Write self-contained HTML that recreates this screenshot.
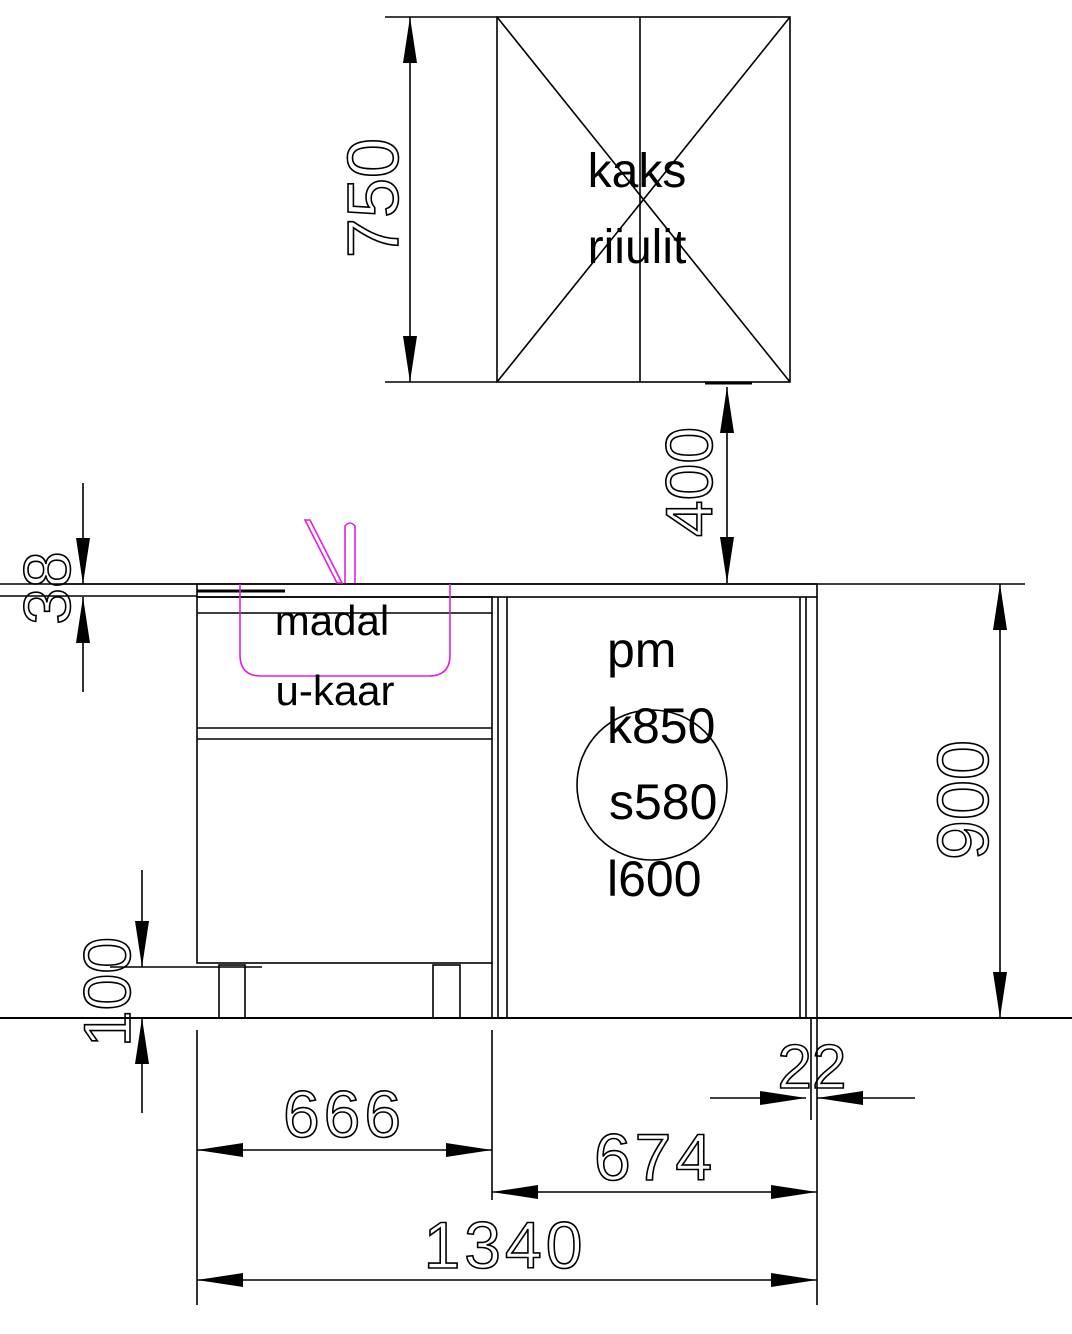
<!DOCTYPE html>
<html><head><style>
html,body{margin:0;padding:0;background:#fff;}
svg{display:block;}
.t{font-family:"Liberation Sans",sans-serif;fill:#000;}
.d{font-family:"Liberation Sans",sans-serif;fill:none;stroke:#000;stroke-width:1.6;}
</style></head><body>
<svg width="1072" height="1334" viewBox="0 0 1072 1334" xmlns="http://www.w3.org/2000/svg">
<defs>
<marker id="a" viewBox="0 0 10 10" refX="10" refY="5" markerWidth="46" markerHeight="14" markerUnits="userSpaceOnUse" orient="auto-start-reverse" preserveAspectRatio="none"><path d="M0,0 L10,5 L0,10 z" fill="#000"/></marker>
</defs>
<g stroke="#000" stroke-width="1.6" fill="none">
<rect x="497" y="17" width="293" height="365"/>
<line x1="640" y1="17" x2="640" y2="382"/>
<line x1="497" y1="17" x2="790" y2="382"/>
<line x1="790" y1="17" x2="497" y2="382"/>
<line x1="385" y1="17" x2="497" y2="17"/>
<line x1="385" y1="382" x2="497" y2="382"/>
<line x1="410" y1="17" x2="410" y2="382" marker-start="url(#a)" marker-end="url(#a)"/>
<line x1="705" y1="383" x2="752" y2="383" stroke-width="3"/>
<line x1="727" y1="387" x2="727" y2="583" marker-start="url(#a)" marker-end="url(#a)"/>
<line x1="0" y1="584" x2="1025" y2="584"/>
<line x1="0" y1="596" x2="197" y2="596"/>
<rect x="197" y="584" width="620" height="13"/>
<line x1="197" y1="591" x2="285" y2="591" stroke-width="3"/>
<rect x="197" y="597" width="295" height="366"/>
<line x1="197" y1="613" x2="492" y2="613"/>
<line x1="197" y1="728" x2="492" y2="728"/>
<line x1="197" y1="739" x2="492" y2="739"/>
<line x1="498" y1="597" x2="498" y2="1018"/>
<line x1="492" y1="963" x2="492" y2="1018"/>
<line x1="507" y1="597" x2="507" y2="1018"/>
<line x1="800" y1="597" x2="800" y2="1018"/>
<line x1="806" y1="597" x2="806" y2="1018"/>
<line x1="817" y1="597" x2="817" y2="1018"/>
<rect x="219" y="965" width="26" height="53"/>
<rect x="433" y="965" width="27" height="53"/>
<line x1="0" y1="1018" x2="1072" y2="1018" stroke-width="2"/>
<circle cx="652" cy="785" r="75"/>
<line x1="60" y1="584" x2="197" y2="584"/>
<line x1="83" y1="483" x2="83" y2="584" marker-end="url(#a)"/>
<line x1="83" y1="692" x2="83" y2="597" marker-end="url(#a)"/>
<line x1="110" y1="967" x2="262" y2="967"/>
<line x1="142" y1="870" x2="142" y2="967" marker-end="url(#a)"/>
<line x1="142" y1="1113" x2="142" y2="1018" marker-end="url(#a)"/>
<line x1="1000" y1="584" x2="1000" y2="1018" marker-start="url(#a)" marker-end="url(#a)"/>
<line x1="197" y1="1030" x2="197" y2="1305"/>
<line x1="492" y1="1030" x2="492" y2="1200"/>
<line x1="817" y1="1018" x2="817" y2="1305"/>
<line x1="811" y1="1018" x2="811" y2="1120"/>
<line x1="197" y1="1150" x2="492" y2="1150" marker-start="url(#a)" marker-end="url(#a)"/>
<line x1="492" y1="1192" x2="817" y2="1192" marker-start="url(#a)" marker-end="url(#a)"/>
<line x1="197" y1="1280" x2="817" y2="1280" marker-start="url(#a)" marker-end="url(#a)"/>
<line x1="710" y1="1098" x2="806" y2="1098" marker-end="url(#a)"/>
<line x1="915" y1="1098" x2="817" y2="1098" marker-end="url(#a)"/>
</g>
<g stroke="#e020e0" stroke-width="1.6" fill="none">
<path d="M240,584 V655 Q240,676 261,676 H429 Q450,676 450,655 V584"/>
<path d="M305,520 L310,520 L342,583 L337,583 Z"/>
<path d="M345,583 V526 Q350,520 355,526 V583"/>
</g>
<text class="d" font-size="72" transform="translate(398,198) rotate(-90)" text-anchor="middle">750</text>
<text class="d" font-size="66" transform="translate(712,482) rotate(-90)" text-anchor="middle">400</text>
<text class="d" font-size="66" transform="translate(70,588) rotate(-90)" text-anchor="middle">38</text>
<text class="d" font-size="66" transform="translate(130,992) rotate(-90)" text-anchor="middle">100</text>
<text class="d" font-size="72" transform="translate(988,800) rotate(-90)" text-anchor="middle">900</text>
<text class="d" font-size="66" x="344" y="1137" text-anchor="middle" letter-spacing="4">666</text>
<text class="d" font-size="66" x="655" y="1180" text-anchor="middle" letter-spacing="4">674</text>
<text class="d" font-size="66" x="505" y="1268" text-anchor="middle" letter-spacing="4">1340</text>
<text class="d" font-size="62" x="812" y="1088" text-anchor="middle">22</text>
<text class="t" font-size="48" x="637" y="187" text-anchor="middle">kaks</text>
<text class="t" font-size="48" x="637" y="263" text-anchor="middle">riiulit</text>
<text class="t" font-size="42" x="332" y="635" text-anchor="middle">madal</text>
<text class="t" font-size="42" x="335" y="705" text-anchor="middle">u-kaar</text>
<text class="t" font-size="50" x="607" y="667">pm</text>
<text class="t" font-size="50" x="607" y="743">k850</text>
<text class="t" font-size="50" x="609" y="819">s580</text>
<text class="t" font-size="50" x="607" y="896">l600</text>
</svg>
</body></html>
